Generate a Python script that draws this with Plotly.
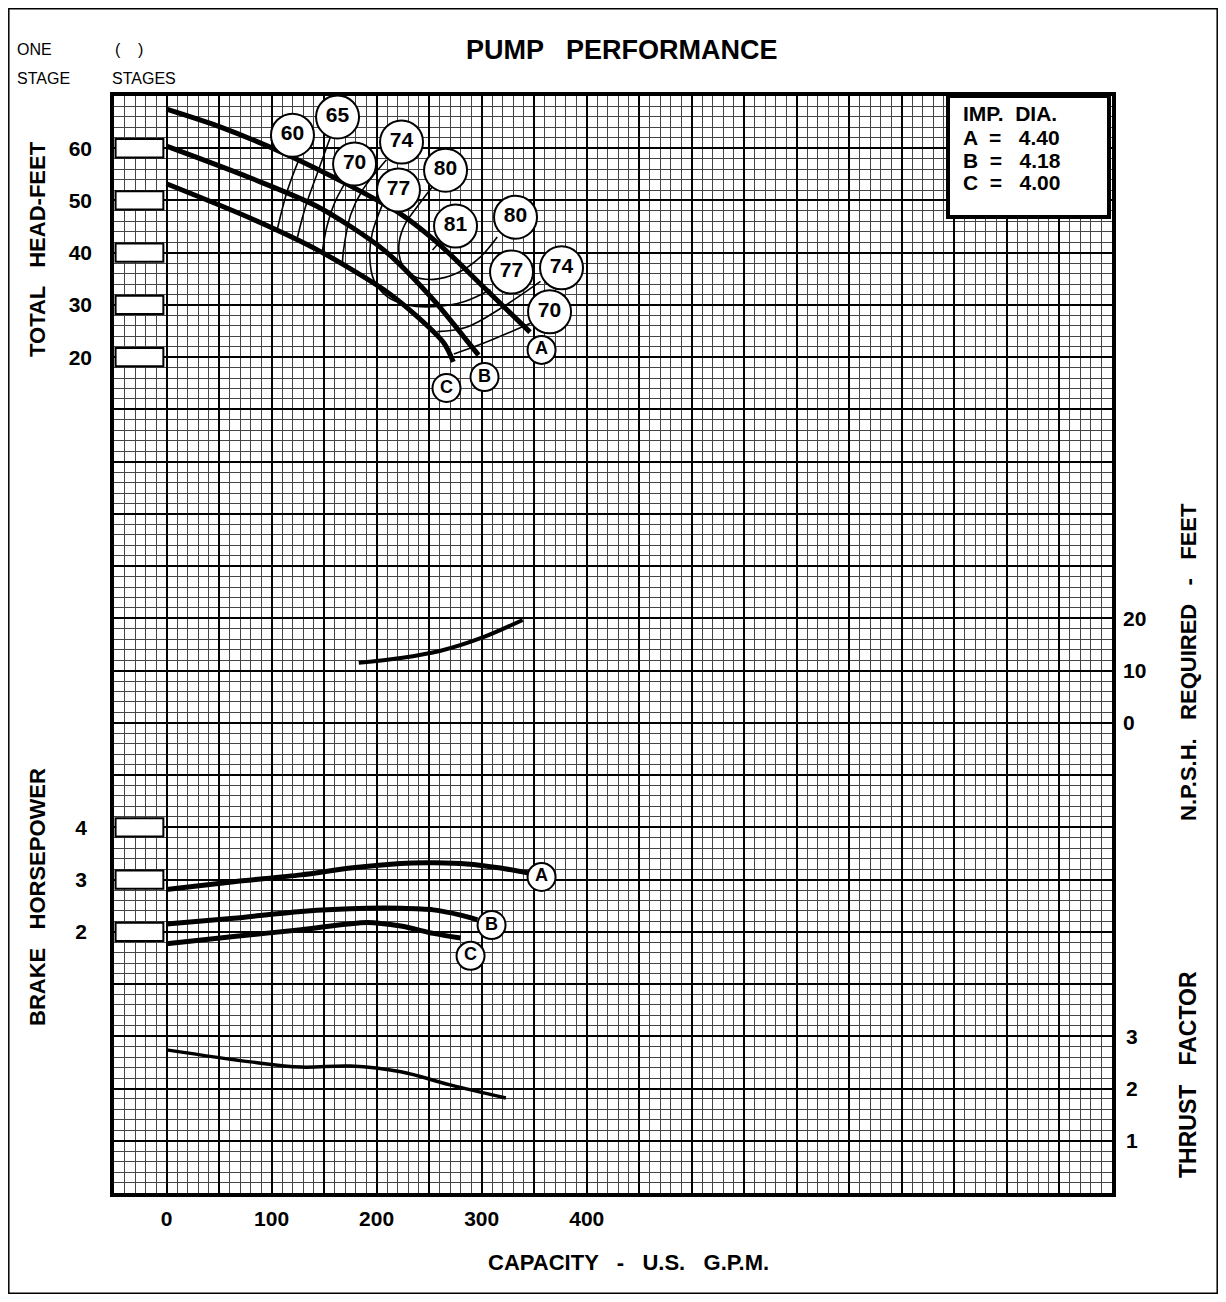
import plotly.graph_objects as go

# ---------------- data ----------------
# Total head (ft) vs capacity (US GPM) for impeller diameters A, B, C
head_a_gpm = [0, 51, 111, 175, 223, 258, 302, 346]
head_a_ft = [67.5, 64.1, 59.1, 52.8, 47.4, 41.9, 33.4, 24.8]
head_b_gpm = [0, 80, 144, 207, 254, 283, 297]
head_b_ft = [60.4, 54.3, 48.8, 40.5, 31.0, 23.9, 20.4]
head_c_gpm = [0, 80, 144, 207, 239, 264, 273]
head_c_ft = [53.2, 46.6, 40.5, 32.9, 27.7, 22.7, 19.1]

# Efficiency (%) contour lines (GPM, ft)
eff60_gpm = [126.6, 115.2, 105.7]
eff60_ft = [58.1, 52.0, 44.7]
eff65_gpm = [156.1, 143.7, 132.3, 124.7]
eff65_ft = [62.2, 55.3, 48.8, 43.0]
eff70l_gpm = [170.4, 159.9, 152.3, 148.5]
eff70l_ft = [53.5, 49.5, 44.7, 40.5]
eff74l_gpm = [209.4, 186.6, 175.2, 168.5, 167.5]
eff74l_ft = [57.8, 52.0, 47.2, 40.5, 38.2]
eff77_gpm = [205.3, 195.8, 193.5, 197.3, 210.1, 229.1, 257.7, 283.0, 308.4]
eff77_ft = [49.1, 43.7, 39.2, 34.8, 31.6, 30.0, 29.7, 30.6, 32.9]
eff80_gpm = [252.9, 238.6, 225.9, 221.1, 224.4, 235.4, 254.4, 276.7, 298.9, 314.8]
eff80_ft = [52.6, 48.8, 45.0, 41.2, 37.7, 35.5, 34.9, 36.1, 39.2, 43.0]
eff81_gpm = [261.8, 253.2]
eff81_ft = [42.5, 40.5]
eff74r_gpm = [356.0, 320.8, 286.2, 257.7]
eff74r_ft = [34.5, 29.7, 25.8, 24.9]
eff70r_gpm = [346.5, 302.1, 273.5]
eff70r_ft = [26.5, 22.7, 20.6]

# Efficiency label circles
eff_label_text = ["60", "65", "70", "74", "77", "80", "81", "80", "77", "74", "70"]
eff_label_gpm = [119.9, 162.8, 179.0, 223.7, 220.8, 265.6, 275.1, 332.2, 328.4, 376.0, 364.6]
eff_label_ft = [62.5, 66.0, 57.0, 61.2, 52.0, 55.8, 45.1, 46.8, 36.3, 37.1, 28.7]

# Curve letter labels
curve_names = ["A", "B", "C"]
head_label_gpm = [357.0, 302.7, 266.5]
head_label_ft = [21.4, 16.2, 14.1]

# Brake horsepower vs capacity
bhp_a_gpm = [0, 64, 128, 175, 223, 255, 286, 318, 346]
bhp_a = [2.81, 2.96, 3.09, 3.22, 3.31, 3.32, 3.30, 3.22, 3.12]
bhp_b_gpm = [0, 64, 128, 191, 223, 254, 280, 296]
bhp_b = [2.15, 2.26, 2.39, 2.45, 2.45, 2.42, 2.32, 2.23]
bhp_c_gpm = [0, 64, 128, 191, 223, 254, 280]
bhp_c = [1.77, 1.91, 2.04, 2.18, 2.11, 1.97, 1.88]
bhp_label_gpm = [357.0, 309.4, 289.4]
bhp_label = [3.05, 2.13, 1.54]

# NPSH required (ft)
npsh_gpm = [183, 223, 261, 299, 339]
npsh_ft = [11.5, 12.4, 13.8, 16.2, 19.7]

# Thrust factor
thrust_gpm = [0, 80, 128, 175, 223, 270, 323]
thrust = [2.74, 2.51, 2.41, 2.43, 2.32, 2.07, 1.82]

# Tick labels
x_ticks = [0, 100, 200, 300, 400]
head_ticks = [20, 30, 40, 50, 60]
bhp_ticks = [2, 3, 4]
npsh_ticks = [0, 10, 20]
thrust_ticks = [1, 2, 3]

# Impeller diameter table
imp_rows = ["IMP.  DIA.", "A  =   4.40", "B  =   4.18", "C  =   4.00"]

# ---------------- figure ----------------
# The page body has an 8 px margin, so the figure is 16 px smaller than the window
OFF = 8
FIG_W, FIG_H = 1226 - 2 * OFF, 1302 - 2 * OFF
PLOT_X0, PLOT_X1, PLOT_Y0, PLOT_Y1 = 114, 1112, 96, 1193   # plot area in window pixels
L = PLOT_X0 - OFF
T = PLOT_Y0 - OFF
R = FIG_W - (PLOT_X1 - OFF)
B = FIG_H - (PLOT_Y1 - OFF)
FONT = "Liberation Sans, Arial, sans-serif"

X_RANGE = [-50, 900]
HEAD_RANGE = [-140, 70]
BHP_RANGE = [-3, 18]
NPSH_RANGE = [-90, 120]
THRUST_RANGE = [0, 21]


def px(xp):
    return (xp - PLOT_X0) / (PLOT_X1 - PLOT_X0)


def py(yp):
    return (PLOT_Y1 - yp) / (PLOT_Y1 - PLOT_Y0)


fig = go.Figure()

thick = dict(color="black", width=5)
for gx, gy in [(head_a_gpm, head_a_ft), (head_b_gpm, head_b_ft), (head_c_gpm, head_c_ft)]:
    fig.add_trace(go.Scatter(x=gx, y=gy, mode="lines", line=dict(shape="spline", smoothing=0.8, **thick),
                             xaxis="x", yaxis="y", hoverinfo="skip"))

eff_lines = [(eff60_gpm, eff60_ft), (eff65_gpm, eff65_ft), (eff70l_gpm, eff70l_ft), (eff74l_gpm, eff74l_ft),
             (eff77_gpm, eff77_ft), (eff80_gpm, eff80_ft), (eff81_gpm, eff81_ft), (eff74r_gpm, eff74r_ft),
             (eff70r_gpm, eff70r_ft)]
for gx, gy in eff_lines:
    fig.add_trace(go.Scatter(x=gx, y=gy, mode="lines", line=dict(color="black", width=1.6, shape="spline", smoothing=1.0),
                             xaxis="x", yaxis="y5", hoverinfo="skip"))

fig.add_trace(go.Scatter(x=eff_label_gpm, y=eff_label_ft, mode="markers+text", text=eff_label_text,
                         textposition="middle center",
                         textfont=dict(family=FONT, size=21, color="black", weight="bold"),
                         marker=dict(size=43, color="white", line=dict(color="black", width=2)),
                         xaxis="x", yaxis="y5", hoverinfo="skip"))
fig.add_trace(go.Scatter(x=head_label_gpm, y=head_label_ft, mode="markers+text", text=curve_names,
                         textposition="middle center",
                         textfont=dict(family=FONT, size=18, color="black", weight="bold"),
                         marker=dict(size=28, color="white", line=dict(color="black", width=2)),
                         xaxis="x", yaxis="y5", hoverinfo="skip"))

for gx, gy in [(bhp_a_gpm, bhp_a), (bhp_b_gpm, bhp_b), (bhp_c_gpm, bhp_c)]:
    fig.add_trace(go.Scatter(x=gx, y=gy, mode="lines", line=dict(shape="spline", smoothing=0.8, **thick),
                             xaxis="x2", yaxis="y2", hoverinfo="skip"))
fig.add_trace(go.Scatter(x=bhp_label_gpm, y=bhp_label, mode="markers+text", text=curve_names,
                         textposition="middle center",
                         textfont=dict(family=FONT, size=18, color="black", weight="bold"),
                         marker=dict(size=28, color="white", line=dict(color="black", width=2)),
                         xaxis="x2", yaxis="y2", hoverinfo="skip"))

fig.add_trace(go.Scatter(x=npsh_gpm, y=npsh_ft, mode="lines", line=dict(color="black", width=4, shape="spline"),
                         xaxis="x", yaxis="y3", hoverinfo="skip"))
fig.add_trace(go.Scatter(x=thrust_gpm, y=thrust, mode="lines", line=dict(color="black", width=3.5, shape="spline"),
                         xaxis="x", yaxis="y4", hoverinfo="skip"))

tickfont = dict(family=FONT, size=21, color="black", weight="bold")
hidden = dict(showgrid=False, zeroline=False, showline=False, ticks="")

fig.update_layout(
    width=FIG_W, height=FIG_H,
    margin=dict(l=L, r=R, t=T, b=B, pad=0),
    paper_bgcolor="white", plot_bgcolor="white",
    showlegend=False,
    xaxis=dict(range=X_RANGE, dtick=50, tick0=0, showgrid=True, gridcolor="black", gridwidth=2,
               minor=dict(dtick=10, tick0=0, showgrid=True, gridcolor="#454545", gridwidth=1),
               showticklabels=False, ticks="", zeroline=False,
               showline=True, linecolor="black", linewidth=4, mirror=True, fixedrange=True),
    xaxis2=dict(range=X_RANGE, overlaying="x", side="bottom", anchor="y", tickmode="array", tickvals=x_ticks,
                tickfont=tickfont, ticklabelstandoff=11, **hidden),
    yaxis=dict(range=HEAD_RANGE, dtick=10, tick0=0, showgrid=True, gridcolor="black", gridwidth=2,
               minor=dict(dtick=2, tick0=0, showgrid=True, gridcolor="#454545", gridwidth=1),
               showticklabels=False, ticks="", zeroline=False,
               showline=True, linecolor="black", linewidth=4, mirror=True, fixedrange=True),
    yaxis5=dict(range=HEAD_RANGE, overlaying="y", side="left", anchor="x", tickmode="array", tickvals=head_ticks,
                tickfont=tickfont, ticklabelstandoff=21, **hidden),
    yaxis2=dict(range=BHP_RANGE, overlaying="y", side="left", anchor="x", tickmode="array", tickvals=bhp_ticks,
                tickfont=tickfont, ticklabelstandoff=26, **hidden),
    yaxis3=dict(range=NPSH_RANGE, overlaying="y", side="right", anchor="x", tickmode="array", tickvals=npsh_ticks,
                tickfont=tickfont, ticklabelstandoff=10, **hidden),
    yaxis4=dict(range=THRUST_RANGE, overlaying="y", side="right", anchor="x", tickmode="array", tickvals=thrust_ticks,
                tickfont=tickfont, ticklabelstandoff=13, **hidden),
)

shapes = []
# label holder boxes on the left edge of the grid
for v in head_ticks:
    shapes.append(dict(type="rect", xref="x", yref="y", x0=-48.5, x1=-3, y0=v - 1.75, y1=v + 1.75,
                       fillcolor="white", line=dict(color="black", width=2), layer="above"))
for v in bhp_ticks:
    shapes.append(dict(type="rect", xref="x", yref="y2", x0=-48.5, x1=-3, y0=v - 0.175, y1=v + 0.175,
                       fillcolor="white", line=dict(color="black", width=2), layer="above"))
# impeller diameter box
shapes.append(dict(type="rect", xref="paper", yref="paper", x0=px(948), x1=px(1109), y0=py(217), y1=py(96),
                   fillcolor="white", line=dict(color="black", width=4), layer="above"))
# outer frame
shapes.append(dict(type="rect", xref="paper", yref="paper", x0=px(OFF + 0.8), x1=px(1226 - OFF - 0.8),
                   y0=py(1302 - OFF - 0.8), y1=py(OFF + 0.8),
                   line=dict(color="black", width=1.5), layer="above"))
fig.update_layout(shapes=shapes)

ann = []


def add_text(text, x, y, size, bold=True, angle=0, xanchor="center"):
    ann.append(dict(text=text, x=px(x), y=py(y), xref="paper", yref="paper", showarrow=False,
                    textangle=angle, xanchor=xanchor, yanchor="middle",
                    font=dict(family=FONT, size=size, color="black", weight="bold" if bold else "normal")))


add_text("PUMP   PERFORMANCE", 622, 50, 27)
add_text("ONE", 15, 50, 16, bold=False, xanchor="left")
add_text("STAGE", 15, 78, 16, bold=False, xanchor="left")
add_text("(    )", 113, 50, 16, bold=False, xanchor="left")
add_text("STAGES", 110, 78, 16, bold=False, xanchor="left")
add_text("TOTAL   HEAD-FEET", 37, 249, 22, angle=-90)
add_text("BRAKE   HORSEPOWER", 37, 897, 22, angle=-90)
add_text("N.P.S.H.   REQUIRED   -   FEET", 1188, 662, 22, angle=-90)
add_text("THRUST   FACTOR", 1188, 1075, 23, angle=-90)
add_text("CAPACITY   -   U.S.   G.P.M.", 628, 1262, 22)
for row_text, row_y in zip(imp_rows, [114, 137, 160, 183]):
    add_text(row_text, 961, row_y, 21, xanchor="left")
fig.update_layout(annotations=ann)

fig.write_html("out.html")
